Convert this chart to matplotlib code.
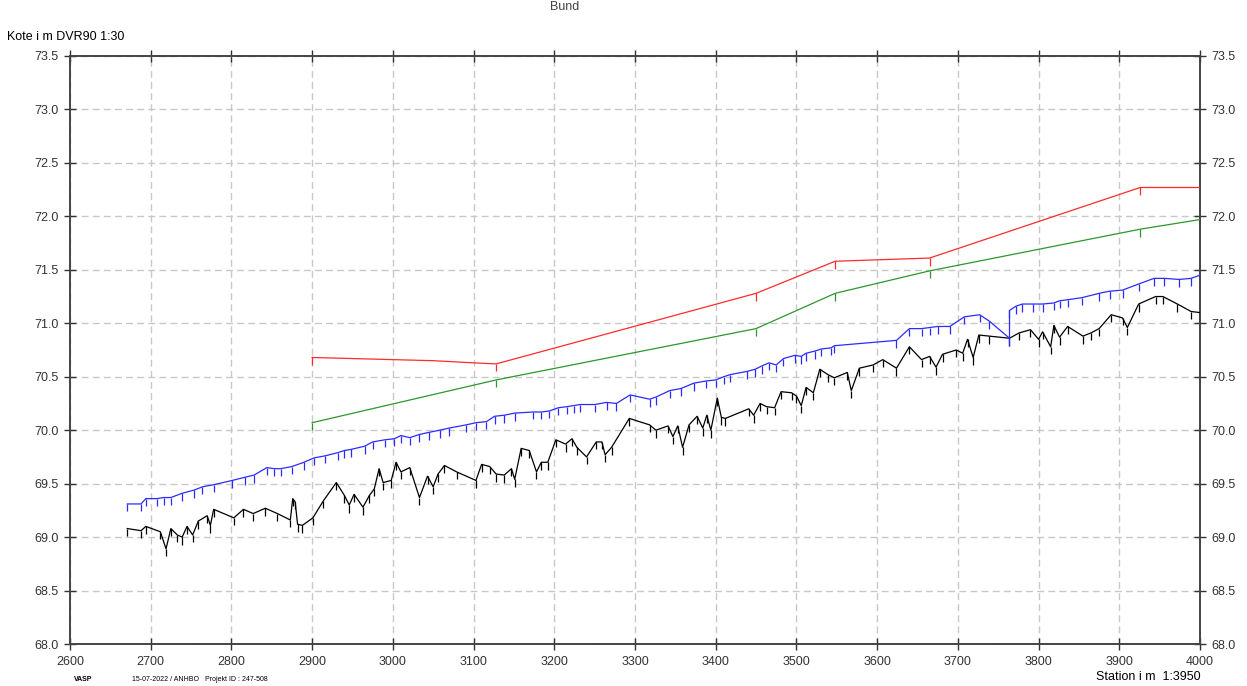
import numpy as np
import matplotlib.pyplot as plt

plt.rcParams['font.family'] = ['Liberation Sans', 'DejaVu Sans']

# station (m) / kote (m DVR90)
red_x = [2900, 2950, 3000, 3050, 3100, 3128, 3450, 3548, 3665, 3926, 4000]
red_y = [70.68, 70.67, 70.66, 70.65, 70.63, 70.62, 71.28, 71.58, 71.61, 72.27, 72.27]
red_ticks = [2900, 3128, 3450, 3548, 3665, 3926]

green_x = [2900, 3128, 3450, 3548, 3665, 3926, 4000]
green_y = [70.07, 70.47, 70.95, 71.28, 71.49, 71.88, 71.97]
green_ticks = [2900, 3128, 3450, 3548, 3665, 3926]

blue_x = [2671, 2688, 2694, 2708, 2716, 2725, 2739, 2754, 2764, 2778, 2801, 2817,
          2828, 2844, 2853, 2861, 2875, 2890, 2902, 2916, 2932, 2940, 2948, 2965,
          2975, 2990, 3002, 3010, 3021, 3033, 3045, 3058, 3070, 3091, 3103, 3116,
          3126, 3138, 3151, 3174, 3184, 3194, 3205, 3216, 3224, 3232, 3250, 3265,
          3277, 3294, 3318, 3326, 3343, 3357, 3373, 3388, 3400, 3410, 3418, 3439,
          3449, 3457, 3466, 3475, 3484, 3498, 3506, 3512, 3523, 3531, 3543, 3547,
          3624, 3640, 3655, 3665, 3675, 3690, 3708, 3727, 3739, 3764, 3764, 3772,
          3780, 3793, 3805, 3819, 3826, 3836, 3854, 3875, 3888, 3904, 3925, 3943,
          3956, 3974, 3989, 4000]
blue_y = [69.31, 69.31, 69.36, 69.36, 69.37, 69.37, 69.41, 69.44, 69.47, 69.49, 69.53, 69.56,
          69.58, 69.65, 69.64, 69.64, 69.66, 69.70, 69.74, 69.76, 69.79, 69.81, 69.82, 69.85,
          69.89, 69.91, 69.92, 69.95, 69.93, 69.96, 69.98, 70.00, 70.02, 70.05, 70.07, 70.08,
          70.13, 70.14, 70.16, 70.17, 70.17, 70.18, 70.21, 70.22, 70.23, 70.24, 70.24, 70.26,
          70.25, 70.33, 70.29, 70.31, 70.37, 70.39, 70.44, 70.46, 70.47, 70.50, 70.52, 70.55,
          70.57, 70.60, 70.63, 70.61, 70.67, 70.70, 70.69, 70.72, 70.74, 70.76, 70.77, 70.79,
          70.84, 70.95, 70.95, 70.96, 70.97, 70.97, 71.06, 71.08, 71.02, 70.86, 71.12, 71.16,
          71.18, 71.18, 71.18, 71.19, 71.21, 71.22, 71.24, 71.28, 71.30, 71.31, 71.37, 71.42,
          71.42, 71.41, 71.42, 71.45]

black_x = [2671, 2688, 2694, 2712, 2719, 2725, 2733, 2739, 2745, 2752, 2759, 2770,
           2774, 2778, 2803, 2815, 2827, 2842, 2857, 2873, 2876, 2879, 2882, 2888,
           2901, 2914, 2930, 2940, 2946, 2952, 2963, 2971, 2977, 2983, 2988, 2998,
           3004, 3010, 3021, 3033, 3043, 3050, 3056, 3064, 3079, 3103, 3110, 3120,
           3128, 3138, 3147, 3151, 3159, 3169, 3178, 3184, 3192, 3202, 3214, 3222,
           3228, 3240, 3252, 3259, 3263, 3271, 3293, 3318, 3326, 3341, 3347, 3353,
           3359, 3367, 3377, 3384, 3389, 3394, 3402, 3407, 3412, 3441, 3447, 3455,
           3463, 3473, 3481, 3494, 3500, 3506, 3512, 3521, 3529, 3539, 3547, 3563,
           3568, 3578, 3595, 3607, 3624, 3640, 3655, 3665, 3673, 3681, 3698, 3706,
           3712, 3719, 3726, 3739, 3764, 3776, 3790, 3800, 3805, 3815, 3819, 3826,
           3836, 3855, 3865, 3875, 3890, 3904, 3910, 3924, 3945, 3954, 3972, 3989,
           4000]
black_y = [69.08, 69.06, 69.10, 69.05, 68.89, 69.08, 69.02, 69.00, 69.10, 69.02, 69.15, 69.20,
           69.11, 69.26, 69.18, 69.26, 69.22, 69.27, 69.22, 69.16, 69.36, 69.33, 69.12, 69.11,
           69.18, 69.34, 69.51, 69.39, 69.30, 69.40, 69.28, 69.39, 69.45, 69.64, 69.51, 69.53,
           69.70, 69.61, 69.65, 69.37, 69.57, 69.47, 69.59, 69.67, 69.61, 69.53, 69.68, 69.66,
           69.59, 69.58, 69.64, 69.54, 69.83, 69.81, 69.61, 69.70, 69.70, 69.91, 69.87, 69.92,
           69.84, 69.75, 69.89, 69.89, 69.77, 69.84, 70.11, 70.05, 70.00, 70.04, 69.94, 70.04,
           69.84, 70.05, 70.13, 70.02, 70.14, 70.00, 70.30, 70.12, 70.11, 70.20, 70.14, 70.25,
           70.22, 70.21, 70.36, 70.35, 70.32, 70.23, 70.40, 70.35, 70.57, 70.52, 70.49, 70.54,
           70.37, 70.58, 70.61, 70.66, 70.58, 70.78, 70.66, 70.69, 70.59, 70.71, 70.75, 70.72,
           70.85, 70.68, 70.89, 70.88, 70.86, 70.91, 70.94, 70.85, 70.92, 70.78, 70.98, 70.87,
           70.97, 70.88, 70.91, 70.95, 71.08, 71.05, 70.96, 71.18, 71.25, 71.25, 71.18, 71.11,
           71.10]

x_ticks = np.arange(2600, 4001, 100)
y_ticks = np.arange(68.0, 73.51, 0.5)

tick_len = 0.07


def draw_profile(ax, xs, ys, color, tick_at=None):
    ax.plot(xs, ys, color=color, lw=0.9, zorder=3)
    if tick_at is None:
        tx, ty = xs, ys
    else:
        ty = np.interp(tick_at, xs, ys)
        tx = tick_at
    ax.vlines(tx, np.array(ty) - tick_len, ty, color=color, lw=0.9, zorder=3)


fig = plt.figure(figsize=(12.47, 6.86), dpi=100)
ax = fig.add_axes([0.0561, 0.0612, 0.9062, 0.8572])

draw_profile(ax, black_x, black_y, 'black')
draw_profile(ax, blue_x, blue_y, '#2b2bff')
draw_profile(ax, green_x, green_y, '#2e962e', green_ticks)
draw_profile(ax, red_x, red_y, '#ff2b2b', red_ticks)

ax.set_xlim(2600, 4000)
ax.set_ylim(68.0, 73.5)
ax.set_xticks(x_ticks)
ax.set_yticks(y_ticks)
ax.set_yticklabels(['%.1f' % v for v in y_ticks])
ax.grid(True, color='#c8c8c8', ls=(0, (5, 3)), lw=1.0)
ax.tick_params(direction='inout', length=9, width=1, labelsize=9,
               top=True, right=True, labelright=True, colors='#333333')
ax.tick_params(axis='x', pad=4)
for s in ax.spines.values():
    s.set_color('#444444')
    s.set_linewidth(1.4)

fig.text(0.453, 0.999, 'Bund', ha='center', va='top', fontsize=9, color='#444444')
fig.text(0.006, 0.946, 'Kote i m DVR90 1:30', fontsize=9, va='center')
fig.text(0.059, 0.009, 'VASP', fontsize=5, weight='bold', va='center')
fig.text(0.106, 0.009, '15-07-2022 / ANHBO   Projekt ID : 247-508', fontsize=5, va='center')
fig.text(0.9625, 0.013, 'Station i m  1:3950', fontsize=9, ha='right', va='center')

plt.savefig('out.png', dpi=100)
